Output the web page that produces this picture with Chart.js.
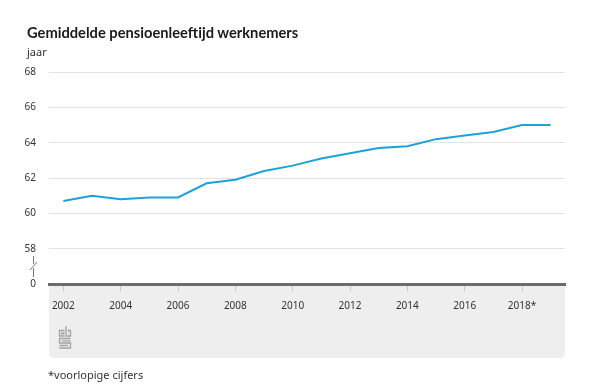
<!DOCTYPE html>
<html>
<head>
<meta charset="utf-8">
<script src="https://cdn.jsdelivr.net/npm/chart.js@4"></script>
<style>
  body { margin: 0; background: #fff; font-family: "Noto Sans", sans-serif; color: #222; }
  #wrap { position: relative; width: 600px; height: 386px; }
  canvas { position: absolute; left: 0; top: 0; }
  .title { position: absolute; left: 27px; top: 23px; font-family: Lato, sans-serif; font-size: 14.7px; font-weight: bold; color: #1a1a1a; }
  .unit { position: absolute; left: 27px; top: 44px; font-size: 11px; color: #333; }
  .note { position: absolute; left: 48px; top: 367px; font-size: 11px; color: #333; }
</style>
</head>
<body>
<div id="wrap">
  <canvas id="chart" width="600" height="386"></canvas>
  <div class="title">Gemiddelde pensioenleeftijd werknemers</div>
  <div class="unit">jaar</div>
  <div class="note">*voorlopige cijfers</div>
</div>
<script>
const years = ['2002', '2003', '2004', '2005', '2006', '2007', '2008', '2009', '2010',
  '2011', '2012', '2013', '2014', '2015', '2016', '2017', '2018*', '2019*'];
const pensionAge = [60.7, 61.0, 60.8, 60.9, 60.9, 61.7, 61.9, 62.4, 62.7,
  63.1, 63.4, 63.7, 63.8, 64.2, 64.4, 64.6, 65.0, 65.0];

// grijze band onder de x-as, asbreuk en logo
const decor = {
  id: 'decor',
  beforeDraw(chart) {
    const { ctx, chartArea } = chart;
    const l = chartArea.left, r = chartArea.right, t = chartArea.bottom, b = 358;
    ctx.save();
    ctx.fillStyle = '#eeeeee';
    ctx.beginPath();
    ctx.moveTo(l, t);
    ctx.lineTo(r, t);
    ctx.lineTo(r, b - 5);
    ctx.quadraticCurveTo(r, b, r - 5, b);
    ctx.lineTo(l + 5, b);
    ctx.quadraticCurveTo(l, b, l, b - 5);
    ctx.closePath();
    ctx.fill();
    ctx.restore();
  },
  afterDraw(chart) {
    const { ctx } = chart;
    ctx.save();
    // asbreuk
    ctx.strokeStyle = '#777';
    ctx.lineWidth = 1;
    ctx.beginPath();
    ctx.moveTo(33.5, 256); ctx.lineTo(33.5, 264);
    ctx.moveTo(37, 262); ctx.lineTo(30, 270);
    ctx.moveTo(33.5, 268); ctx.lineTo(33.5, 277);
    ctx.stroke();
    // logo
    ctx.strokeStyle = '#a2a2a2';
    ctx.lineWidth = 1.3;
    ctx.beginPath();
    // c
    ctx.moveTo(64.5, 330.5); ctx.lineTo(59.5, 330.5); ctx.lineTo(59.5, 336); ctx.lineTo(64.5, 336);
    ctx.moveTo(64.5, 332.8); ctx.lineTo(61.8, 332.8); ctx.lineTo(61.8, 333.8); ctx.lineTo(64.5, 333.8);
    // b
    ctx.moveTo(66, 326); ctx.lineTo(66, 336); ctx.lineTo(70.5, 336); ctx.lineTo(70.5, 330.5); ctx.lineTo(67.5, 330.5);
    ctx.moveTo(68, 332.8); ctx.lineTo(68.5, 332.8);
    // s
    ctx.moveTo(70.5, 338.5); ctx.lineTo(59.5, 338.5); ctx.lineTo(59.5, 343); ctx.lineTo(70.5, 343);
    ctx.lineTo(70.5, 348); ctx.lineTo(59.5, 348);
    ctx.moveTo(61.8, 340.8); ctx.lineTo(70.5, 340.8);
    ctx.moveTo(59.5, 345.5); ctx.lineTo(68.2, 345.5);
    ctx.stroke();
    ctx.restore();
  }
};

new Chart(document.getElementById('chart'), {
  type: 'line',
  data: {
    labels: years,
    datasets: [{
      data: pensionAge,
      borderColor: '#1ca3d5',
      borderWidth: 2,
      pointRadius: 0,
      tension: 0,
    }],
  },
  options: {
    responsive: false,
    animation: false,
    layout: { padding: { top: 72, right: 35, left: 0, bottom: 0 } },
    plugins: { legend: { display: false }, tooltip: { enabled: false } },
    scales: {
      x: {
        offset: true,
        afterFit: (s) => { s.height = 102; },
        border: { color: '#6b6b6b', width: 3 },
        grid: {
          drawOnChartArea: false,
          drawTicks: true,
          tickLength: 7,
          lineWidth: 1,
          color: (c) => (c.index % 2 === 0 ? '#c8c8c8' : 'rgba(0,0,0,0)'),
        },
        ticks: {
          autoSkip: false,
          maxRotation: 0,
          padding: 9,
          color: '#333',
          font: { family: 'Noto Sans', size: 10 },
          callback: (v, i) => (i % 2 === 0 ? years[i] : ''),
        },
      },
      y: {
        min: 56,
        max: 68,
        afterFit: (s) => { s.width = 49; },
        border: { display: false },
        grid: {
          drawTicks: false,
          color: (c) => (c.tick && c.tick.value === 56 ? 'rgba(0,0,0,0)' : '#e2e2e2'),
        },
        ticks: {
          stepSize: 2,
          padding: 13,
          color: '#333',
          font: { family: 'Noto Sans', size: 10 },
          callback: (v) => (v === 56 ? '0' : v),
        },
      },
    },
  },
  plugins: [decor],
});
</script>
</body>
</html>
